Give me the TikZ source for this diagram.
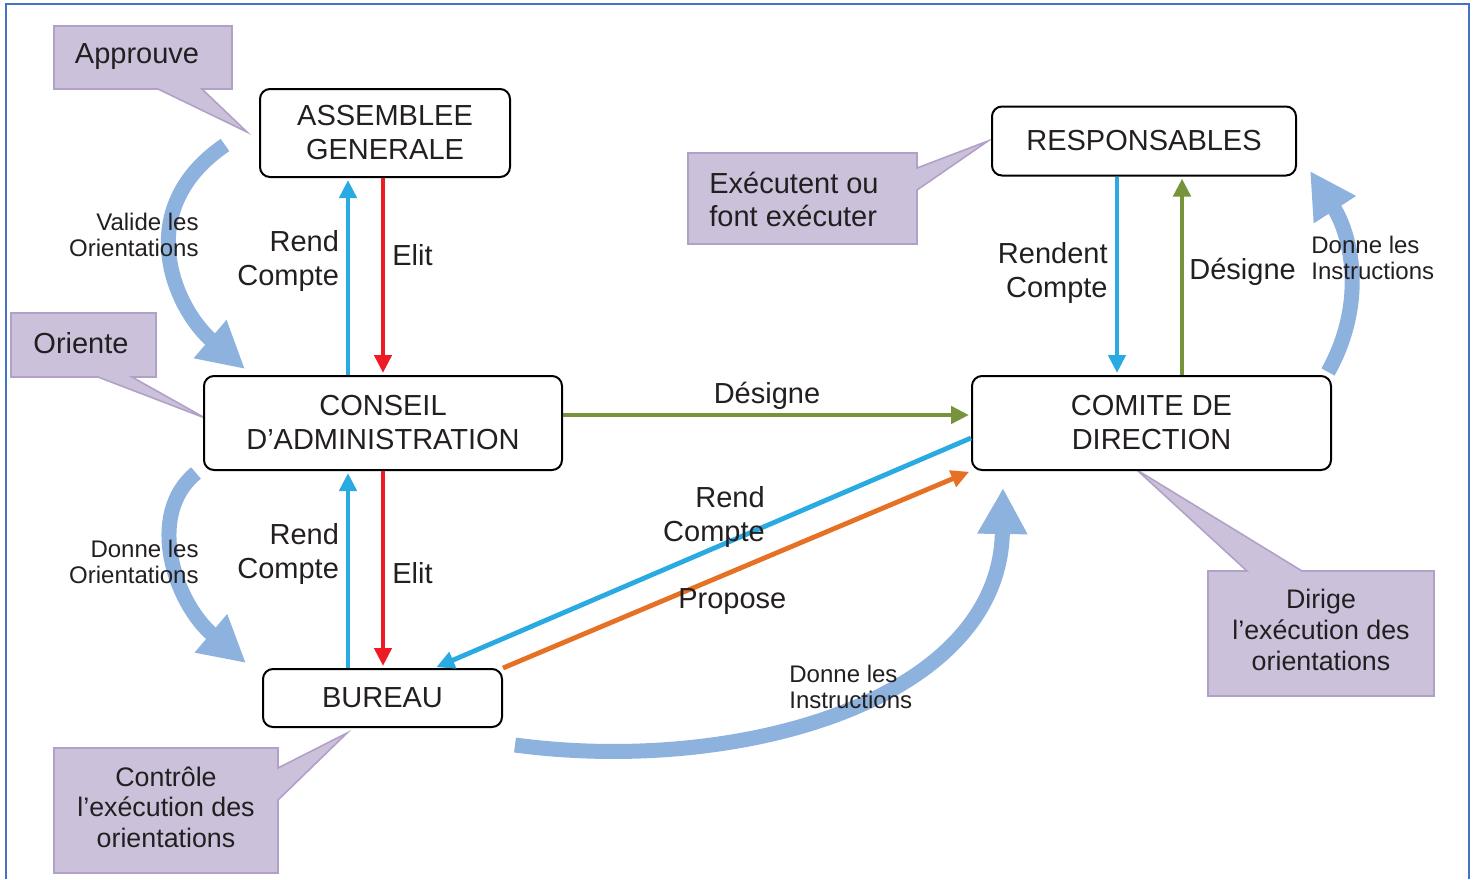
\documentclass[tikz,border=0pt]{standalone}
\usepackage{fontspec}
\setmainfont{Liberation Sans}
\usetikzlibrary{arrows.meta, calc}

\definecolor{lineblue}{RGB}{41,171,226}
\definecolor{linered}{RGB}{237,28,36}
\definecolor{linegreen}{RGB}{119,147,60}
\definecolor{lineorange}{RGB}{230,112,35}
\definecolor{bandblue}{RGB}{142,178,222}
\definecolor{callfill}{RGB}{204,193,218}
\definecolor{callborder}{RGB}{178,161,199}
\definecolor{frameblue}{RGB}{68,114,196}
\definecolor{inkgray}{RGB}{35,31,32}

\newcommand{\bigtxt}{\fontsize{14.5}{17}\selectfont}
\newcommand{\calltxt}{\fontsize{13.4}{15.3}\selectfont}
\newcommand{\smalltxt}{\fontsize{12}{13.3}\selectfont}

\begin{document}
\begin{tikzpicture}[x=0.5pt,y=-0.5pt,every node/.style={text=inkgray},
   box/.style={draw,fill=white,rounded corners=5pt,line width=1pt,inner sep=0pt,align=center,font=\bigtxt},
   callout/.style={fill=callfill,draw=callborder,line width=0.8pt},
   calltext/.style={align=center,font=\calltxt},
   link/.style={line width=2.4pt,shorten >=1pt,-{Triangle[width=8.5pt,length=9pt]}},
   band/.style={draw=bandblue,line width=7.5pt,-{Triangle[width=23.5pt,length=23pt]}},
   lab/.style={font=\bigtxt,align=right},
   smalllab/.style={font=\smalltxt,inner sep=0pt}]

   \useasboundingbox (0,0) rectangle (1477,879);
   \draw[frameblue,line width=1pt] (6,879) -- (6,4) -- (1469,4) -- (1469,879);

   % callouts
   \filldraw[callout] (54,26) -- (232,26) -- (232,89) -- (202,89) -- (247,132) -- (158,89) -- (54,89) -- cycle;
   \node[calltext,font=\bigtxt] (approuve) at (137,57) {Approuve};
   \filldraw[callout] (11,313) -- (156,313) -- (156,377) -- (132,377) -- (205,418) -- (98,377) -- (11,377) -- cycle;
   \node[calltext,font=\bigtxt] (oriente) at (81,343) {Oriente};
   \filldraw[callout] (688,153) -- (917,153) -- (917,168) -- (988,141) -- (917,190) -- (917,244) -- (688,244) -- cycle;
   \node[calltext,align=left,font=\fontsize{14.5}{16.5}\selectfont] (executent) at (794,199) {Exécutent ou\\font exécuter};
   \filldraw[callout] (54,748) -- (278,748) -- (278,768) -- (347,733) -- (278,800) -- (278,873) -- (54,873) -- cycle;
   \node[calltext] (controle) at (166,807) {Contrôle\\l’exécution des\\orientations};
   \filldraw[callout] (1208,571) -- (1247,571) -- (1137,470) -- (1302,571) -- (1434,571) -- (1434,696) -- (1208,696) -- cycle;
   \node[calltext] (dirige) at (1321,630) {Dirige\\l’exécution des\\orientations};

   % wide arrows
   \draw[band] (225,145) .. controls (130,210) and (175,309) .. (245,369);
   \draw[band] (196,473) .. controls (145,515) and (175,603) .. (246,663);
   \draw[band] (515,745) .. controls (740,775) and (1000,700) .. (1003,488);
   \draw[band] (1328,372) .. controls (1368,300) and (1350,233) .. (1310,171);
   \node[smalllab,align=right,anchor=east] (valide) at (199,235) {Valide les\\Orientations};
   \node[smalllab,align=right,anchor=east] (donneori) at (199,562) {Donne les\\Orientations};
   \node[smalllab,align=left,anchor=west] (donneinsb) at (789,687) {Donne les\\Instructions};
   \node[smalllab,align=left,anchor=west] (donneinsr) at (1311,258) {Donne les\\Instructions};

   % boxes
   \node[box,minimum width=125pt,minimum height=44pt] (ag) at (385,133) {ASSEMBLEE\\GENERALE};
   \node[box,minimum width=179pt,minimum height=47pt] (ca) at (383,423) {CONSEIL\\D’ADMINISTRATION};
   \node[box,minimum width=119.5pt,minimum height=29pt] (bureau) at (382.5,698) {BUREAU};
   \node[box,minimum width=152pt,minimum height=34.5pt] (resp) at (1144,141) {RESPONSABLES};
   \node[box,minimum width=179.5pt,minimum height=47pt] (comite) at (1151.5,423) {COMITE DE\\DIRECTION};

   \draw[link,lineblue] ([xshift=-17.5pt]ca.north) -- node[lab,left,pos=.58] {Rend\\Compte} ([xshift=-17.5pt]ca.north |- ag.south);
   \draw[link,linered] (ca.north |- ag.south) -- node[lab,right,pos=.39,inner sep=3.5pt] {Elit} (ca.north);
   \draw[link,lineblue] ([xshift=-17.5pt]ca.south |- bureau.north) -- node[lab,left,pos=.58] {Rend\\Compte} ([xshift=-17.5pt]ca.south);
   \draw[link,linered] (ca.south) -- node[lab,right,pos=.52,inner sep=3.5pt] {Elit} (ca.south |- bureau.north);
   \draw[link,linegreen] ([yshift=4pt]ca.east) -- node[lab,above,inner sep=1.5pt] {Désigne} ([yshift=4pt]ca.east -| comite.west);
   \draw[link,lineblue] ([yshift=-7.5pt]comite.west) -- node[lab,pos=.38,anchor=east,inner sep=0pt,yshift=4pt] {Rend\\Compte} ([xshift=26pt]bureau.north);
   \draw[link,lineorange] (bureau.north east) -- node[lab,pos=.49,yshift=-15.25pt] {Propose} (comite.south west);
   \draw[link,lineblue] ([xshift=-13.5pt]resp.south) -- node[lab,left,pos=.485,inner sep=3.5pt] {Rendent\\Compte} ([xshift=-13.5pt]resp.south |- comite.north);
   \draw[link,linegreen] ([xshift=19pt]resp.south |- comite.north) -- node[lab,right,pos=.52,inner sep=2.5pt] {Désigne} ([xshift=19pt]resp.south);
\end{tikzpicture}
\end{document}
